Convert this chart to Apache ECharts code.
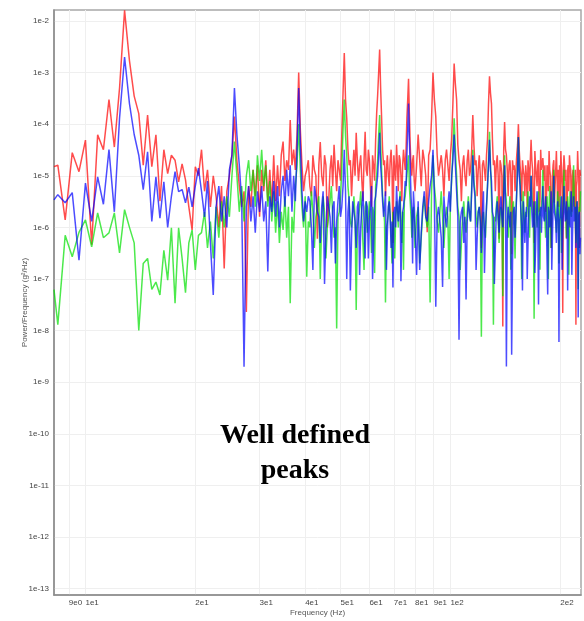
<!DOCTYPE html>
<html>
<head>
<meta charset="utf-8">
<script src="https://cdn.jsdelivr.net/npm/echarts@6/dist/echarts.min.js"></script>
<style>
html,body{margin:0;padding:0;background:#ffffff;}
#chart{width:584px;height:621px;}
</style>
</head>
<body>
<div id="chart"></div>
<script>
// Frequency grid (Hz)
const freqHz = [
  8.2, 8.4, 8.8, 9.2, 9.6, 10, 10.4, 10.8, 11.2, 11.6, 12, 12.4, 12.8, 13.2, 13.6, 14, 14.4, 14.8, 15.2, 15.6, 16, 16.4, 16.8, 17.2, 17.6, 18, 18.4, 18.8, 19.2, 19.6, 20, 20.4,
  20.8, 21.2, 21.6, 22, 22.4, 22.8, 23.2, 23.6, 24, 24.4, 24.8, 25.2, 25.6, 26, 26.4, 26.8, 27.2, 27.6, 28, 28.4, 28.8, 29.2, 29.6, 30, 30.4, 30.8, 31.2, 31.6, 32, 32.4, 32.8, 33.2, 33.6, 34, 34.4, 34.8, 35.2, 35.6, 36, 36.4, 36.8, 37.2, 37.6, 38, 38.4, 38.8, 39.2, 39.6, 40,
  40.4, 40.8, 41.2, 41.6, 42, 42.4, 42.8, 43.2, 43.6, 44, 44.4, 44.8, 45.2, 45.6, 46, 46.4, 46.8, 47.2, 47.6, 48, 48.4, 48.8, 49.2, 49.6, 50, 50.4, 50.8, 51.2, 51.6, 52, 52.4, 52.8, 53.2, 53.6, 54, 54.4, 54.8, 55.2, 55.6, 56, 56.4, 56.8, 57.2, 57.6, 58, 58.4, 58.8, 59.2, 59.6, 60,
  60.4, 60.8, 61.2, 61.6, 62, 62.4, 62.8, 63.2, 63.6, 64, 64.4, 64.8, 65.2, 65.6, 66, 66.4, 66.8, 67.2, 67.6, 68, 68.4, 68.8, 69.2, 69.6, 70, 70.4, 70.8, 71.2, 71.6, 72, 72.4, 72.8, 73.2, 73.6, 74, 74.4, 74.8, 75.2, 75.6, 76, 76.4, 76.8, 77.2, 77.6, 78, 78.4, 78.8, 79.2, 79.6, 80,
  80.8, 81.6, 82.4, 83.2, 84, 84.8, 85.6, 86.4, 87.2, 88, 88.8, 89.6, 90.4, 91.2, 92, 92.8, 93.6, 94.4, 95.2, 96, 96.8, 97.6, 98.4, 99.2, 100, 100.8, 101.6, 102.4, 103.2, 104, 104.8, 105.6, 106.4, 107.2, 108, 108.8, 109.6, 110.4, 111.2, 112, 112.8, 113.6, 114.4, 115.2, 116, 116.8, 117.6, 118.4, 119.2, 120,
  120.8, 121.6, 122.4, 123.2, 124, 124.8, 125.6, 126.4, 127.2, 128, 128.8, 129.6, 130.4, 131.2, 132, 132.8, 133.6, 134.4, 135.2, 136, 136.8, 137.6, 138.4, 139.2, 140, 140.8, 141.6, 142.4, 143.2, 144, 144.8, 145.6, 146.4, 147.2, 148, 148.8, 149.6, 150.4, 151.2, 152, 152.8, 153.6, 154.4, 155.2, 156, 156.8, 157.6, 158.4, 159.2, 160,
  160.8, 161.6, 162.4, 163.2, 164, 164.8, 165.6, 166.4, 167.2, 168, 168.8, 169.6, 170.4, 171.2, 172, 172.8, 173.6, 174.4, 175.2, 176, 176.8, 177.6, 178.4, 179.2, 180, 180.8, 181.6, 182.4, 183.2, 184, 184.8, 185.6, 186.4, 187.2, 188, 188.8, 189.6, 190.4, 191.2, 192, 192.8, 193.6,
  194.4, 195.2, 196, 196.8, 197.6, 198.4, 199.2, 200, 200.8, 201.6, 202.4, 203.2, 204, 204.8, 205.6, 206.4, 207.2, 208, 208.8, 209.6, 210.4, 211.2, 212, 212.8, 213.6, 214.4, 215.2, 216, 216.8, 217.6, 218.4, 219.2, 220, 220.8, 221.6, 222.4, 223.2, 224, 224.8, 225.6, 226.4, 227.2
];

// Power/Frequency (g²/Hz), red trace
const redPsd = [
  1.5e-5,1.6e-5,1.4e-6,2.8e-5,1.2e-5,4.9e-5,4.6e-7,6.2e-5,3.2e-5,3e-4,3.6e-5,5e-4,1.6e-2,1.7e-3,3.5e-4,1.6e-4,1.6e-5,1.5e-4,1.5e-5,6.2e-5,3.2e-6,3.2e-5,1.1e-5,2.5e-5,2e-5,7.6e-6,1.7e-5,8.3e-6,2.5e-6,8.9e-7,1.5e-5,1e-5,
  3.2e-5,5e-6,1.3e-5,2.5e-6,1e-5,4e-6,1e-6,6.3e-6,1.6e-7,5e-6,1e-5,2.5e-5,1.4e-4,2e-5,6.3e-6,2.5e-6,5e-6,2.3e-8,6.3e-6,2.5e-6,1.3e-5,4e-6,1.6e-5,1.6e-6,1.3e-5,5e-6,2e-5,3.2e-6,1.3e-5,2.5e-6,2.5e-5,3.2e-6,1.6e-5,4e-6,2.5e-5,4.6e-5,7.9e-6,2e-5,1.3e-5,1.2e-4,1.6e-5,3.2e-5,1.3e-5,6.3e-5,1e-3,7.9e-5,1.6e-5,5e-6,1e-5,
  1.3e-5,2e-5,6.3e-6,4e-6,2.5e-5,1.3e-5,1e-5,6e-7,1.6e-5,4.5e-5,1e-5,6.3e-6,2.5e-5,1.6e-5,1e-6,3.2e-6,1.3e-5,2.5e-5,6.3e-6,4e-5,1.3e-5,5e-6,2e-5,1.3e-5,8e-6,6.3e-5,4e-4,2.4e-3,3e-4,1.3e-4,3.2e-5,1.6e-5,2e-5,4e-6,1.3e-5,3.2e-5,1e-5,6.8e-5,2e-5,7.9e-6,1.6e-5,2.5e-5,8e-6,3.2e-6,2e-5,7.1e-5,1.3e-5,1e-5,3.2e-5,2e-5,
  6.3e-6,2.5e-6,2.5e-5,1.6e-5,8e-6,5e-5,1.6e-4,3.7e-4,1e-3,2.8e-3,5e-4,1.3e-4,3.2e-5,1.6e-5,2e-5,4e-6,1.3e-5,2.5e-5,1e-5,6.3e-6,2e-5,3.2e-5,1.3e-5,5e-7,2.5e-5,1.3e-5,8e-6,4e-5,1.6e-5,5e-6,2.5e-5,2e-5,1e-5,3.2e-6,1.6e-5,3.2e-5,2e-5,1.3e-5,3.2e-5,1.3e-4,3e-4,7.6e-4,1.6e-4,4e-5,1.6e-5,1e-5,2e-5,2.5e-5,8e-6,5e-6,
  1.6e-5,6.3e-5,2e-5,6.3e-6,3.2e-5,2e-5,1e-5,8e-7,2.5e-5,3.2e-5,1.3e-4,1e-3,3e-4,1.4e-4,2.5e-5,1e-5,1.6e-5,2.5e-5,1.3e-5,4e-6,2e-5,3.2e-5,1.6e-5,7.9e-6,2.5e-5,5e-5,2.5e-4,1.5e-3,6e-4,3e-4,4e-5,2e-5,1.3e-5,3.2e-6,1.6e-5,2.5e-5,1e-5,6.3e-6,2e-5,3.2e-5,1e-5,1.3e-5,3.2e-5,1.5e-4,4e-5,1.6e-5,2e-5,4e-6,1.3e-5,2.5e-5,
  1e-5,4e-7,1.6e-5,2e-5,1.3e-5,7.9e-6,2.5e-5,5e-5,2.5e-4,8.5e-4,4e-4,2.5e-4,5e-5,1.6e-5,2e-5,5e-6,1.6e-5,2.5e-5,1e-5,6e-7,2e-5,1.6e-5,1e-5,1.2e-8,3.2e-5,1.1e-4,3.2e-5,2.5e-5,1.3e-5,4e-6,1.6e-5,2e-5,1e-5,3e-7,2e-5,1.3e-5,1.6e-5,5e-6,1.3e-5,2.5e-5,4e-5,1e-4,3.2e-5,1.6e-5,1e-5,3.2e-6,2e-5,1.3e-5,1e-5,4e-6,
  1.6e-5,1e-5,2.5e-6,2e-5,1.3e-5,5e-6,2e-5,5e-5,2e-5,1.3e-5,3e-6,5e-7,3e-5,1.6e-5,1e-5,6.3e-6,1.6e-5,2e-5,2e-6,3.2e-6,3.2e-5,1.3e-5,1.6e-5,2.2e-5,1.3e-5,7.9e-6,1.6e-5,2e-6,2.5e-6,1.6e-5,1.3e-5,5e-6,3e-5,1.3e-5,1e-5,4e-7,2e-6,1e-5,1.6e-5,2e-5,3e-6,6.3e-6,
  1.3e-5,3e-5,1e-5,2.5e-6,1.3e-5,2.5e-6,1.6e-5,4e-6,3e-5,1.3e-5,6.3e-6,2.2e-8,1.3e-5,2.5e-5,1.6e-5,7.9e-6,1.3e-5,6e-7,2e-6,1.3e-5,1.6e-5,5e-6,2.5e-5,1.6e-5,1.3e-5,3.2e-6,2e-6,1e-5,1.3e-5,1.4e-5,2.5e-6,4e-6,1.3e-5,1.3e-8,6.3e-6,7.9e-6,3e-5,1.4e-5,1e-5,4e-7,1.3e-5,1e-5
];

// Power/Frequency (g²/Hz), green trace
const greenPsd = [
  6.2e-8,1.3e-8,7e-7,2.7e-7,8e-7,1.4e-6,4.2e-7,1.9e-6,6.3e-7,7.8e-7,1.9e-6,3.2e-7,2.2e-6,1e-6,5e-7,1e-8,2e-7,2.5e-7,6.3e-8,8.7e-8,4.9e-8,3.6e-7,9.5e-8,9.8e-7,3.4e-8,9.8e-7,2.5e-7,5.4e-8,5e-7,8.9e-7,1.5e-7,7e-7,
  7.9e-7,2e-6,4e-7,1.3e-6,2.5e-7,2.5e-6,6.3e-7,3.2e-6,1e-6,4e-6,1.6e-6,1e-5,4.6e-5,1e-5,2e-6,6.3e-6,1.3e-6,1e-5,2e-5,5e-6,1.3e-5,2.5e-6,2.5e-5,7.9e-6,3.2e-5,6.3e-6,1.6e-5,2.5e-6,7.9e-6,1.3e-6,5e-6,7.9e-7,3.2e-6,5e-7,2e-6,8.9e-7,4e-6,6.3e-7,2.5e-6,3.4e-8,1.6e-6,7.9e-7,6.3e-6,1.6e-5,1e-4,1.3e-5,2.5e-6,1e-6,4e-6,
  1.1e-7,1.3e-6,1e-6,5e-6,2e-6,4e-7,1.6e-6,2.5e-6,4e-6,1e-7,1.3e-6,4e-6,2e-6,2.5e-7,1e-6,1.6e-6,3.2e-6,6.3e-6,1.6e-6,6.3e-7,1e-6,1.1e-8,1.6e-6,2e-6,4e-6,1.3e-5,8e-5,3e-4,6e-5,2.5e-5,6.3e-6,3.2e-6,1.3e-6,1e-6,2e-6,4e-6,1.6e-6,2.5e-8,1e-6,1.6e-6,2.5e-6,5e-6,1.6e-6,5e-7,1.5e-7,2.5e-6,3.2e-6,7.9e-7,1.6e-6,3.2e-6,
  1.3e-6,3.2e-7,2.5e-6,2e-6,1.3e-7,6.3e-6,1e-5,2e-5,6e-5,1.5e-4,4e-5,1.3e-5,4e-6,2.5e-6,1.3e-6,3.5e-8,1e-6,1.3e-6,2e-6,4e-6,1.6e-6,6.3e-7,2e-7,2e-6,1e-6,2.5e-7,1.6e-6,3.2e-6,2e-6,1e-6,2.5e-6,5e-6,1.3e-6,5e-7,2e-6,1.5e-7,3.2e-6,4e-6,6.3e-6,1e-5,1.6e-5,2.5e-5,6.3e-6,3.2e-6,1.6e-6,6.3e-7,2e-6,2.5e-6,1.3e-6,4e-7,
  1.6e-6,2.5e-6,2e-7,6.3e-7,2e-6,4e-6,1.6e-6,1e-6,2.5e-6,3.5e-8,5e-6,2.5e-5,6.3e-6,3.2e-6,1.3e-6,7.9e-7,2e-6,5e-6,1.6e-6,4e-7,1.3e-6,2.5e-6,1.6e-6,1e-7,3.2e-6,7.9e-6,3e-5,1.3e-4,3.2e-5,1e-5,2.5e-6,1.6e-6,1.5e-7,5e-7,1.6e-6,3.2e-6,1.3e-6,7.9e-7,2e-6,4e-6,1.6e-6,1.3e-6,6.3e-6,3.2e-5,8e-6,5e-6,1.6e-6,1e-6,2e-6,2.5e-6,
  1.3e-6,7.6e-9,1.6e-6,2e-6,1e-6,6.3e-7,2.5e-6,6.3e-6,2e-5,7.1e-5,1.6e-5,4e-6,1.3e-6,1.3e-8,1.6e-6,1.3e-6,2.5e-6,4e-6,1.3e-6,5e-7,1.6e-6,2.5e-6,2e-6,4.6e-8,6.3e-6,2.5e-5,5e-6,3.2e-6,1.6e-6,6.3e-7,2e-6,4e-6,1.5e-7,1e-6,2.5e-6,3.2e-6,1.3e-6,2.5e-7,2e-6,5e-6,1.6e-5,5.6e-5,1.3e-5,7.9e-6,2.5e-6,1e-7,2e-6,5e-6,1.6e-6,7.9e-7,
  2e-6,1.6e-6,2.5e-6,5e-6,1.6e-6,6.3e-7,3.2e-6,1e-5,4e-6,2.5e-6,1.3e-6,1.7e-8,1.6e-6,3.2e-6,2e-6,1e-6,2.5e-6,5e-6,1.6e-6,1.5e-7,2e-6,2.5e-6,4e-6,1.3e-5,3.2e-6,2e-6,1.3e-6,6.3e-7,2e-6,4e-6,1.6e-6,1e-7,2.5e-6,6.3e-6,1.6e-6,4e-7,2e-6,2.5e-6,4e-6,1.3e-5,3.2e-6,3.2e-6,
  1.6e-6,7.9e-7,2e-6,5e-6,2.5e-6,2e-7,2e-6,4e-6,1.6e-6,3.2e-7,1.3e-6,2e-6,4e-6,1.3e-5,3.2e-6,3.2e-6,1.6e-6,6.3e-7,2e-6,4e-6,2.5e-6,1.2e-7,1.6e-6,5e-6,2.5e-6,1.6e-6,2e-6,3.2e-6,5e-6,1.6e-5,4e-6,2.5e-6,1.3e-6,5e-7,2e-6,3.2e-6,1.6e-6,6.3e-8,1.3e-6,2.5e-6,2e-6,5e-6
];

// Power/Frequency (g²/Hz), blue trace
const bluePsd = [
  3.4e-6,4.3e-6,3e-6,4.7e-6,2.3e-7,7.2e-6,1.3e-6,9.5e-6,2.8e-6,3.2e-5,2e-6,1.3e-4,2e-3,2.5e-4,6.3e-5,2.5e-5,5.4e-6,2.9e-5,1.3e-6,9.5e-6,1.5e-6,7.6e-6,1e-6,4e-6,1.2e-5,4.9e-6,5.4e-6,3e-6,6e-6,2.5e-6,6.3e-6,1.4e-5,
  5e-6,1.6e-6,7.9e-6,5e-7,4.9e-8,2.5e-6,6.3e-6,1.3e-6,4e-6,1e-6,1.3e-5,2.5e-5,5e-4,6.3e-5,1.6e-5,3.2e-6,2e-9,2.5e-6,6.3e-6,1.3e-6,4e-6,7.9e-7,5e-6,2e-6,6.3e-6,1.3e-6,3.2e-6,1.4e-7,4e-6,2e-6,7.9e-6,1.6e-6,6.3e-6,1e-6,5e-6,1e-5,2.5e-6,1.3e-5,4e-6,1.6e-5,2e-6,1e-5,3.2e-6,3.2e-5,5e-4,4e-5,5e-6,1.3e-6,3.2e-6,
  2e-6,4e-6,3.2e-6,1e-6,1.5e-7,6.3e-6,4e-6,2e-6,1.6e-6,5e-7,2.5e-6,5e-6,8e-8,7.9e-7,4e-6,2.5e-6,1.6e-6,3.2e-7,2.5e-6,3.2e-6,2e-7,1.3e-6,3.2e-6,6.3e-6,1.6e-6,2.5e-6,6.3e-6,3.2e-5,5e-6,1e-7,2e-6,4e-6,6e-8,6.3e-7,3.2e-6,2e-6,1.3e-6,4e-7,2.5e-6,3.2e-6,1.2e-7,1e-6,2.5e-6,5e-6,1.3e-6,2.5e-7,3.2e-6,2.5e-6,2.5e-7,1.3e-6,
  2.5e-6,6.3e-6,1e-7,5e-7,3.2e-6,4e-6,6.3e-6,1e-5,2.5e-5,6.8e-5,1.6e-5,7.9e-6,3.2e-6,1.6e-6,2.5e-6,5e-6,1.5e-7,7.9e-7,2.5e-6,3.2e-6,1.6e-6,4e-7,1.3e-6,6.8e-8,2e-6,2.5e-6,1e-6,6.3e-6,2.5e-6,1.3e-6,3.2e-6,4e-6,9e-8,6.3e-7,2e-6,2.5e-6,4e-6,7.9e-6,6.3e-6,2.5e-5,8e-5,2.5e-4,5e-5,1.6e-5,4e-6,2e-6,2e-7,5e-6,2.5e-6,1e-6,
  1.2e-7,3.2e-6,1.5e-7,7.9e-7,2.5e-6,5e-6,1.6e-6,1.3e-6,3.2e-6,6.3e-6,1e-5,3.2e-5,4e-6,2.9e-8,1.6e-6,2.5e-6,1.3e-6,6.3e-7,7e-8,4e-6,1.6e-6,1e-6,2.5e-6,5e-6,2e-6,1e-5,2e-5,6.3e-5,1.6e-5,5e-6,1.6e-6,6.6e-9,1.3e-6,2e-6,2.5e-6,5e-7,1.6e-6,4e-8,1.3e-6,3.2e-6,2e-6,1.3e-6,5e-6,2.5e-5,6.3e-6,4e-6,1.5e-7,6.3e-7,2e-6,2.5e-6,
  1.3e-6,3.2e-7,2e-6,5e-6,1.3e-7,1e-6,2.5e-6,6.3e-6,1.6e-5,5e-5,1.3e-5,7.9e-6,2e-6,1.6e-6,8e-8,4e-7,2e-6,3.2e-6,1.6e-6,7.9e-7,2.5e-6,4e-6,1.6e-6,1e-6,4e-6,1.6e-5,3.2e-6,2e-9,1.3e-6,2.5e-6,1.6e-6,1e-6,2e-6,3.4e-9,2e-7,2e-6,2.5e-6,6.3e-7,1.6e-6,5e-6,1.3e-5,5.6e-5,1e-5,6.3e-6,2e-6,1e-6,6e-8,3.2e-6,1.3e-6,5e-7,
  1.6e-6,2.5e-6,1e-7,5e-7,2e-6,4e-6,2.5e-6,1e-5,2e-6,1e-6,1.6e-6,3.2e-6,1.3e-7,4e-7,2e-6,5e-6,1.3e-6,3.2e-8,1.6e-6,2e-6,2.5e-6,7.9e-7,2e-6,6.3e-6,1.6e-6,1.3e-6,2.5e-6,4e-6,1.3e-6,2.5e-7,5e-8,2.5e-6,2e-6,1e-6,1.6e-6,5e-6,1.5e-7,6.3e-7,2.5e-6,1e-5,2e-6,2e-6,
  1.3e-6,5e-7,2e-6,3.2e-6,1.6e-6,6e-9,1.3e-6,1.6e-6,2.5e-6,4e-6,1.5e-7,7.9e-7,2e-6,6.3e-6,2.5e-6,1.3e-6,1.6e-6,3.2e-6,2e-6,6e-8,1.6e-6,2.5e-6,1.3e-6,1e-6,2.5e-6,5e-6,1.2e-7,6.3e-7,2e-6,4e-6,1.3e-6,1.6e-6,2.5e-6,4e-7,1.6e-6,3.2e-6,1.3e-6,1.8e-8,1.6e-6,2e-6,3e-7,6.3e-7
];

// Tick values
const xTickValues = [9, 10, 20, 30, 40, 50, 60, 70, 80, 90, 100, 200];
const yTickValues = [1e-13, 1e-12, 1e-11, 1e-10, 1e-9, 1e-8, 1e-7, 1e-6, 1e-5, 1e-4, 1e-3, 1e-2];

[redPsd, greenPsd, bluePsd].forEach(function (a, i) {
  if (a.length !== freqHz.length) throw new Error('length mismatch in series ' + i + ': ' + a.length + ' vs ' + freqHz.length);
});

function sciLabel(v) {
  const e = Math.floor(Math.log10(v) + 1e-9);
  const m = Math.round(v / Math.pow(10, e));
  return m + 'e' + e;
}
function pairs(values) {
  return freqHz.map(function (f, i) { return [f, values[i]]; });
}

const chart = echarts.init(document.getElementById('chart'), null, { renderer: 'canvas' });
const lineSeries = function (name, color, values) {
  return {
    name: name,
    type: 'line',
    data: pairs(values),
    showSymbol: false,
    symbol: 'none',
    clip: true,
    animation: false,
    lineStyle: { color: color, width: 1.5, opacity: 0.7 },
    itemStyle: { color: color },
    emphasis: { disabled: true }
  };
};

chart.setOption({
  animation: false,
  backgroundColor: '#ffffff',
  grid: {
    left: 54, top: 10, right: 3, bottom: 26,
    show: true, borderColor: '#a8a8a8', borderWidth: 1.5,
    containLabel: false, outerBoundsMode: 'none'
  },
  xAxis: {
    type: 'log',
    min: 8.2, max: 228,
    name: 'Frequency (Hz)',
    nameLocation: 'middle',
    nameGap: 14,
    nameMoveOverlap: false,
    nameTextStyle: { fontSize: 8, color: '#555', fontFamily: 'Liberation Sans' },
    axisLine: { show: true, onZero: false, lineStyle: { color: '#8c8c8c', width: 1.5 } },
    axisTick: { show: false, customValues: xTickValues },
    axisLabel: {
      customValues: xTickValues,
      formatter: sciLabel,
      align: 'left',
      margin: 4,
      fontSize: 8,
      color: '#444',
      fontFamily: 'Liberation Sans'
    },
    splitLine: { show: true, lineStyle: { color: '#efefef', width: 1 } },
    minorTick: { show: false },
    minorSplitLine: { show: false }
  },
  yAxis: {
    type: 'log',
    min: 7.5e-14, max: 0.0163,
    name: 'Power/Frequency (g²/Hz)',
    nameLocation: 'middle',
    nameGap: 25,
    nameMoveOverlap: false,
    nameTextStyle: { fontSize: 8, color: '#555', fontFamily: 'Liberation Sans' },
    axisLine: { show: true, onZero: false, lineStyle: { color: '#8c8c8c', width: 1.5 } },
    axisTick: { show: false, customValues: yTickValues },
    axisLabel: {
      customValues: yTickValues,
      formatter: sciLabel,
      margin: 5,
      fontSize: 8,
      color: '#444',
      fontFamily: 'Liberation Sans'
    },
    splitLine: { show: true, lineStyle: { color: '#efefef', width: 1 } }
  },
  series: [
    lineSeries('Red', '#ff0000', redPsd),
    lineSeries('Green', '#00e000', greenPsd),
    lineSeries('Blue', '#0000ff', bluePsd)
  ],
  graphic: [{
    type: 'text',
    x: 295,
    y: 418,
    z: 100,
    style: {
      text: 'Well defined\npeaks',
      font: 'bold 28px "Liberation Serif", "Times New Roman", serif',
      textAlign: 'center',
      textVerticalAlign: 'top',
      lineHeight: 35,
      fill: '#000000'
    }
  }]
});
</script>
</body>
</html>
